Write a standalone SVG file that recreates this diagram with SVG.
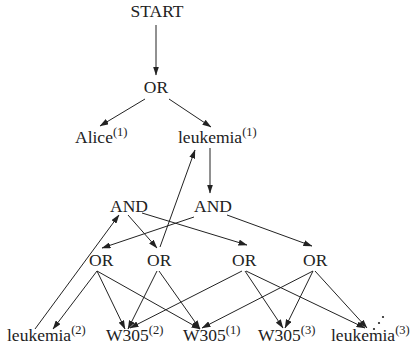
<svg xmlns="http://www.w3.org/2000/svg" width="411" height="358" viewBox="0 0 411 358">
<style>
text{font-family:"Liberation Serif","Times New Roman",serif;font-size:17.5px;fill:#222}
.s{font-size:12.5px}
line{stroke:#222;stroke-width:1;marker-end:url(#ah)}
</style>
<defs>
<marker id="ah" markerUnits="userSpaceOnUse" markerWidth="9" markerHeight="6" refX="8.5" refY="3" orient="auto">
<path d="M0,0 L9,3 L0,6 z" fill="#222"/>
</marker>
</defs>
<g id="connectors">
<line x1="156" y1="25" x2="156" y2="75"/>
<line x1="145" y1="99" x2="100" y2="126"/>
<line x1="169" y1="99" x2="211" y2="127"/>
<line x1="210" y1="148" x2="210" y2="193"/>
<line x1="160" y1="247" x2="195" y2="150"/>
<line x1="35" y1="329" x2="119" y2="215"/>
<line x1="194" y1="217" x2="102" y2="248"/>
<line x1="128" y1="215" x2="157" y2="248"/>
<line x1="142" y1="213" x2="247" y2="245"/>
<line x1="227" y1="215" x2="312" y2="246"/>
<line x1="97" y1="271" x2="53" y2="329"/>
<line x1="97" y1="271" x2="125" y2="329"/>
<line x1="97" y1="271" x2="200" y2="329"/>
<line x1="157" y1="271" x2="128" y2="329"/>
<line x1="159" y1="271" x2="200" y2="329"/>
<line x1="242" y1="271" x2="130" y2="328"/>
<line x1="245" y1="271" x2="283" y2="328"/>
<line x1="246" y1="271" x2="365" y2="328"/>
<line x1="313" y1="271" x2="202" y2="328"/>
<line x1="313" y1="271" x2="285" y2="328"/>
<line x1="315" y1="271" x2="367" y2="328"/>
</g>
<g id="start"><text x="157" y="17" text-anchor="middle">START</text></g>
<g id="or0"><text x="156" y="93" text-anchor="middle">OR</text></g>
<g id="alice1"><text x="75" y="143">Alice<tspan class="s" dy="-7">(1)</tspan></text></g>
<g id="leukemia1"><text x="178" y="143">leukemia<tspan class="s" dy="-7">(1)</tspan></text></g>
<g id="and1"><text x="110" y="212">AND</text></g>
<g id="and2"><text x="194" y="212">AND</text></g>
<g id="or1"><text x="89" y="266">OR</text></g>
<g id="or2"><text x="147" y="266">OR</text></g>
<g id="or3"><text x="232" y="266">OR</text></g>
<g id="or4"><text x="303" y="266">OR</text></g>
<g id="leukemia2"><text x="7" y="341">leukemia<tspan class="s" dy="-7">(2)</tspan></text></g>
<g id="w305-2"><text x="106" y="341">W305<tspan class="s" dy="-7">(2)</tspan></text></g>
<g id="w305-1"><text x="183" y="341">W305<tspan class="s" dy="-7">(1)</tspan></text></g>
<g id="w305-3"><text x="258" y="341">W305<tspan class="s" dy="-7">(3)</tspan></text></g>
<g id="leukemia3"><text x="331" y="341">leukemia<tspan class="s" dy="-7">(3)</tspan></text></g>
<g id="dots" fill="#222">
<circle cx="374" cy="329" r="1.1"/>
<circle cx="379" cy="323" r="1.1"/>
<circle cx="383" cy="317" r="1.1"/>
</g>
</svg>
